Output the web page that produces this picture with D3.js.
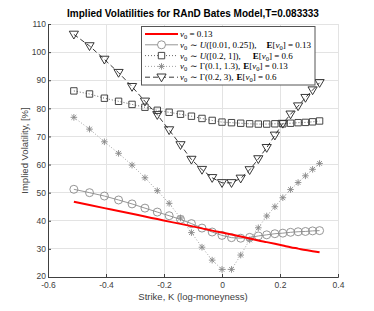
<!DOCTYPE html>
<html><head><meta charset="utf-8">
<script src="https://cdn.jsdelivr.net/npm/d3@7"></script>
<style>body{margin:0;background:#fff}svg{display:block}</style>
</head><body>
<svg id="c" width="374" height="311"></svg>
<script>
// log-moneyness strikes
const strikes = [-0.5108,-0.4568,-0.4055,-0.3567,-0.3102,-0.2657,-0.2231,-0.1823,-0.1431,-0.1054,-0.0690,-0.0339,0,0.0328,0.0645,0.0953,0.1252,0.1542,0.1823,0.2097,0.2364,0.2624,0.2877,0.3124,0.3365];
const volFixed   = [46.8,45.6,44.5,43.5,42.5,41.5,40.6,39.7,38.9,38.1,37.3,36.5,35.8,35.1,34.4,33.7,33.0,32.4,31.8,31.2,30.6,30.1,29.6,29.2,28.8];
const volUnifLow = [51.2,50.0,48.8,47.4,46.0,44.5,43.1,41.8,40.5,39.0,37.4,36.0,34.8,34.0,33.8,34.1,34.6,35.0,35.4,35.6,35.9,36.1,36.2,36.4,36.5];
const volUnifHigh= [86.2,85.1,83.6,82.5,81.4,80.4,79.3,78.6,77.9,77.2,76.4,75.7,75.1,74.9,74.7,74.5,74.4,74.4,74.5,74.5,74.7,74.9,75.0,75.2,75.5];
const volGamLow  = [76.8,72.6,68.1,64.0,59.8,55.3,50.7,46.2,41.0,35.8,30.6,26.0,22.7,22.7,27.8,33.2,37.5,41.7,45.0,48.2,51.1,53.6,56.0,58.3,60.4];
const volGamHigh = [106.3,102.2,97.4,92.7,87.7,82.5,77.7,72.3,67.0,61.8,58.2,55.3,53.5,53.5,55.1,58.1,62.0,66.0,70.4,74.6,77.9,80.8,83.8,86.5,89.1];
const xTicks = [-0.6,-0.4,-0.2,0,0.2,0.4];
const yTicks = [20,30,40,50,60,70,80,90,100,110];
const titleText = "Implied Volatilities for RAnD Bates Model,T=0.083333";
const xLabel = "Strike, K (log-moneyness)";
const yLabel = "Implied Volatility, [%]";

const svg = d3.select("#c");
const L=48, R=338, T=24, B=277;
const x = d3.scaleLinear().domain([-0.6,0.4]).range([L,R]);
const y = d3.scaleLinear().domain([20,110]).range([B,T]);
const SANS = "Liberation Sans, Arial, sans-serif";

// grid
const g = svg.append("g");
g.selectAll(".gx").data(xTicks).join("line")
  .attr("x1",d=>x(d)).attr("x2",d=>x(d)).attr("y1",T).attr("y2",B)
  .attr("stroke","#e3e3e3").attr("stroke-width",1).attr("shape-rendering","crispEdges");
g.selectAll(".gy").data(yTicks).join("line")
  .attr("x1",L).attr("x2",R).attr("y1",d=>y(d)).attr("y2",d=>y(d))
  .attr("stroke","#e3e3e3").attr("stroke-width",1).attr("shape-rendering","crispEdges");

// axes
const ax = svg.append("g").attr("transform",`translate(0,${B})`)
  .call(d3.axisBottom(x).tickValues(xTicks).tickFormat(d=>d===0?"0":String(d)).tickSize(-3).tickPadding(5));
const ay = svg.append("g").attr("transform",`translate(${L},0)`)
  .call(d3.axisLeft(y).tickValues(yTicks).tickSize(-3).tickPadding(2));
[ax,ay].forEach(a=>{
  a.select(".domain").attr("stroke","#404040");
  a.selectAll(".tick line").attr("stroke","#404040");
  a.selectAll("text").attr("fill","#404040").style("font-family",SANS).style("font-size","8.5px");
});
ay.selectAll(".tick text").filter(d=>d===20).attr("dy","0.15em");

const pts = vals => strikes.map((k,i)=>[k,vals[i]]);
const line = d3.line().x(d=>x(d[0])).y(d=>y(d[1]));

// series
const series = [
  {vals:volGamHigh, color:"#222", dash:"5,3", w:0.9, marker:"tri"},
  {vals:volUnifHigh, color:"#555", dash:"1,2", w:0.9, marker:"sq"},
  {vals:volGamLow, color:"#999", dash:"1,2", w:0.9, marker:"star"},
  {vals:volUnifLow, color:"#8a8a8a", dash:null, w:0.9, marker:"circ"},
];
function markerPath(type){
  if(type==="tri") return "M-4.6,-3.2L4.6,-3.2L0,4.6Z";
  if(type==="sq") return "M-3.2,-3.2H3.2V3.2H-3.2Z";
  if(type==="circ") return d3.symbol(d3.symbolCircle, Math.PI*4*4)();
  if(type==="star") return "M0,-3.3V3.3M-3.3,0H3.3M-2.4,-2.4L2.4,2.4M-2.4,2.4L2.4,-2.4";
}
const mcol = {tri:"#222", sq:"#333", star:"#888", circ:"#8a8a8a"};
series.forEach(s=>{
  svg.append("path").attr("d",line(pts(s.vals))).attr("fill","none")
    .attr("stroke",s.color).attr("stroke-width",s.w).attr("stroke-dasharray",s.dash);
  svg.append("g").selectAll("path").data(pts(s.vals)).join("path")
    .attr("transform",d=>`translate(${x(d[0])},${y(d[1])})`)
    .attr("d",markerPath(s.marker)).attr("fill","none")
    .attr("stroke",mcol[s.marker]).attr("stroke-width",0.9);
});
svg.append("path").attr("d",d3.line().curve(d3.curveMonotoneX).x(d=>x(d[0])).y(d=>y(d[1]))(pts(volFixed)))
  .attr("fill","none").attr("stroke","#ff0000").attr("stroke-width",2);

// title & labels
svg.append("text").attr("x",(L+R)/2).attr("y",17).attr("text-anchor","middle")
  .style("font-family",SANS).style("font-size","10px").style("font-weight","bold")
  .attr("fill","#000").text(titleText);
svg.append("text").attr("x",(L+R)/2).attr("y",300).attr("text-anchor","middle")
  .style("font-family",SANS).style("font-size","9.5px")
  .attr("fill","#404040").text(xLabel);
svg.append("text").attr("transform",`translate(28,${(T+B)/2}) rotate(-90)`).attr("text-anchor","middle")
  .style("font-family",SANS).style("font-size","9.5px")
  .attr("fill","#404040").text(yLabel);

// legend
const lg = svg.append("g");
lg.append("rect").attr("x",141.5).attr("y",26.5).attr("width",173.5).attr("height",58.5)
  .attr("fill","#fff").attr("stroke","#555").attr("stroke-width",1);
const legendItems = [
  {color:"#ff0000", dash:null, w:2, marker:null, main:" = 0.13", dist:null, e:null, gap:0},
  {color:"#8a8a8a", dash:null, w:0.9, marker:"circ", main:" ∼ ", dist:"([0.01, 0.25]),", U:true, e:" = 0.13", gap:10},
  {color:"#555", dash:"1,2", w:0.9, marker:"sq", main:" ∼ ", dist:"([0.2, 1]),", U:true, e:" = 0.6", gap:12},
  {color:"#999", dash:"1,2", w:0.9, marker:"star", main:" ∼ ", dist:"Γ(0.1, 1.3),", U:false, e:" = 0.13", gap:3},
  {color:"#222", dash:"5,3", w:0.9, marker:"tri", main:" ∼ ", dist:"Γ(0.2, 3),", U:false, e:" = 0.6", gap:3},
];
const rowY = [34,44.8,55.6,66.4,77.2];
legendItems.forEach((it,i)=>{
  const yy=rowY[i];
  lg.append("line").attr("x1",145).attr("x2",178).attr("y1",yy).attr("y2",yy)
    .attr("stroke",it.color).attr("stroke-width",it.w).attr("stroke-dasharray",it.dash);
  if(it.marker){
    lg.append("path").attr("transform",`translate(161.5,${yy})`).attr("d",markerPath(it.marker))
      .attr("fill","#fff").attr("stroke",mcol[it.marker]).attr("stroke-width",0.9);
  }
  const t = lg.append("text").attr("x",180).attr("y",yy+3)
    .style("font-family","Liberation Serif, Times New Roman, serif").style("font-size","9px").attr("fill","#000");
  t.append("tspan").style("font-style","italic").text("v");
  t.append("tspan").attr("baseline-shift","-25%").style("font-size","6.5px").text("0");
  if(!it.dist){ t.append("tspan").text(it.main); return; }
  t.append("tspan").text(it.main);
  if(it.U){ t.append("tspan").style("font-style","italic").text("U"); }
  t.append("tspan").text(it.dist);
  t.append("tspan").attr("dx",it.gap).style("font-weight","bold").text("E");
  t.append("tspan").text("[");
  t.append("tspan").style("font-style","italic").text("v");
  t.append("tspan").attr("baseline-shift","-25%").style("font-size","6.5px").text("0");
  t.append("tspan").text("]"+it.e);
});
</script>
</body></html>
